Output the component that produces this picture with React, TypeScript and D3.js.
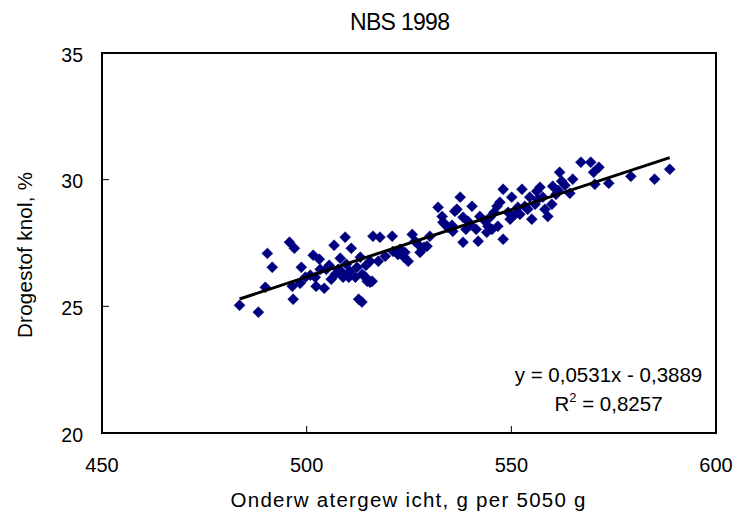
import React from "react";
import * as d3 from "d3";

const title = "NBS 1998";
const xTitle = "Onderw atergew icht, g per 5050 g";
const yTitle = "Drogestof knol, %";
const xTicks = [450, 500, 550, 600];
const yTicks = [20, 25, 30, 35];
const slope = 0.0531;
const intercept = -0.3889;
const rSquared = 0.8257;

const weight = [
  483.6, 488.2, 489.9, 490.4, 491.6, 495.8, 497.0, 496.7, 496.5, 498.4, 498.7, 499.7, 501.6, 502.1, 502.3,
  503.1, 504.3, 505.5, 506.7, 507.0, 508.2, 508.9, 509.4, 510.9, 510.6, 512.3, 513.6, 514.8, 516.0, 516.2,
  517.9, 517.5, 519.2, 520.9, 521.1, 522.3, 524.8, 525.8, 526.5, 527.7, 530.1, 532.1, 533.1, 533.3, 533.8,
  535.7, 536.2, 536.7, 537.5, 538.2, 538.2, 539.9, 540.4, 541.9, 542.3, 544.0, 544.3, 546.5, 546.7, 547.2,
  548.0, 548.0, 549.7, 550.1, 551.6, 552.6, 553.3, 554.0, 554.5, 555.0, 556.2, 557.0, 557.7, 558.9, 559.9,
  560.1, 561.8, 562.3, 564.3, 565.0, 567.0, 569.4, 570.1, 570.4, 571.4, 573.8, 579.2, 585.0, 588.7,
  504.8, 506.0, 507.7, 509.7, 503.3, 500.9, 511.9, 513.1, 514.5, 515.5, 522.8, 523.8, 527.2, 528.7, 524.0,
  529.4, 534.5, 535.5, 538.9, 539.4, 541.4, 543.6, 545.3, 545.8, 544.8, 550.9, 552.1, 555.8, 556.5, 558.2,
  549.2, 560.9, 561.4, 563.1, 508.7, 510.3, 514.4, 515.5, 512.7, 513.5,
];
const drySolids = [
  25.04, 24.77, 25.75, 27.09, 26.54, 27.53, 27.29, 25.28, 25.79, 25.91, 26.54, 26.15, 27.02, 26.15, 25.79,
  26.86, 25.71, 26.62, 27.41, 26.27, 26.90, 26.15, 27.73, 27.29, 26.38, 26.54, 26.27, 25.99, 25.99, 27.77,
  27.73, 26.78, 26.98, 27.77, 27.17, 27.05, 26.78, 27.84, 27.57, 27.13, 27.77, 28.91, 28.55, 28.32, 28.24,
  27.96, 28.75, 28.83, 29.31, 28.52, 27.53, 28.24, 28.95, 27.57, 28.55, 27.92, 28.16, 28.95, 28.16, 29.11,
  29.62, 27.65, 28.44, 29.31, 28.91, 29.62, 28.95, 28.83, 29.31, 28.44, 29.54, 29.70, 29.31, 28.55, 29.03,
  29.74, 30.29, 29.94, 29.46, 30.02, 30.69, 30.69, 30.29, 29.82, 30.49, 29.86, 30.13, 30.02, 30.41,
  26.46, 26.07, 26.46, 26.66, 26.46, 26.23, 26.15, 26.94, 26.62, 26.78, 27.25, 26.94, 27.45, 27.33, 27.13,
  27.37, 28.12, 28.20, 28.04, 28.36, 28.04, 28.36, 28.04, 28.71, 28.52, 28.63, 28.63, 29.03, 29.23, 28.83,
  28.71, 29.42, 29.58, 29.78, 26.34, 26.15, 26.15, 25.95, 25.28, 25.17,
];

const W = 740;
const H = 517;
const margin = { left: 102, right: 24, top: 53, bottom: 84 };
const FONT = "'Liberation Sans', Arial, sans-serif";

export default function App() {
  const x = d3.scaleLinear().domain([450, 600]).range([margin.left, W - margin.right]);
  const y = d3.scaleLinear().domain([20, 35]).range([H - margin.bottom, margin.top]);
  const points = weight.map((w, i) => ({ w, d: drySolids[i] }));
  const [xmin, xmax] = d3.extent(weight) as [number, number];
  const line = d3.line<number>().x((v) => x(v)).y((v) => y(slope * v + intercept));
  const marker = d3.symbol().type(d3.symbolSquare).size(60)();
  const fmt = (v: number, n: number) => v.toFixed(n).replace(".", ",");
  const eqX = 608.5;

  return (
    <svg width={W} height={H} style={{ position: "absolute", left: 0, top: 0, background: "#fff" }} fontFamily={FONT}>
      <text x={400} y={30} textAnchor="middle" fontSize={23} textLength={100} lengthAdjust="spacing" fill="#000">
        {title}
      </text>
      {yTicks.slice(1, -1).map((t) => (
        <line key={"yt" + t} x1={x(450)} x2={x(450) + 7} y1={y(t)} y2={y(t)} stroke="#000" strokeWidth={1} />
      ))}
      {xTicks.slice(1, -1).map((t) => (
        <line key={"xt" + t} x1={x(t)} x2={x(t)} y1={y(20)} y2={y(20) - 7} stroke="#000" strokeWidth={1} />
      ))}
      {points.map((p, i) => (
        <path
          key={i}
          d={marker!}
          transform={`translate(${x(p.w)},${y(p.d)}) rotate(45)`}
          fill="#000080"
          stroke="#000080"
          strokeWidth={0.5}
        />
      ))}
      <path d={line([xmin, xmax])!} stroke="#000" strokeWidth={3} fill="none" />
      <rect
        x={x(450)}
        y={y(35)}
        width={x(600) - x(450)}
        height={y(20) - y(35)}
        fill="none"
        stroke="#000"
        strokeWidth={2}
      />
      {yTicks.map((t) => (
        <text key={"yl" + t} x={x(450) - 19} y={y(t) + 8.5} textAnchor="end" fontSize={19.5} fill="#000">
          {t}
        </text>
      ))}
      {xTicks.map((t) => (
        <text key={"xl" + t} x={x(t)} y={y(20) + 39} textAnchor="middle" fontSize={20} fill="#000">
          {t}
        </text>
      ))}
      <text x={408} y={507} textAnchor="middle" fontSize={20.5} textLength={355} lengthAdjust="spacing" fill="#000">
        {xTitle}
      </text>
      <text
        transform={`translate(32,255) rotate(-90)`}
        textAnchor="middle"
        fontSize={20.5}
        textLength={166}
        lengthAdjust="spacing"
        fill="#000"
      >
        {yTitle}
      </text>
      <text x={eqX} y={382} textAnchor="middle" fontSize={20.5} fill="#000">
        {`y = ${fmt(slope, 4)}x - ${fmt(-intercept, 4)}`}
      </text>
      <text x={eqX} y={410.5} textAnchor="middle" fontSize={20.5} fill="#000">
        <tspan>R</tspan>
        <tspan dy={-9} fontSize={13}>2</tspan>
        <tspan dy={9}>{` = ${fmt(rSquared, 4)}`}</tspan>
      </text>
    </svg>
  );
}
